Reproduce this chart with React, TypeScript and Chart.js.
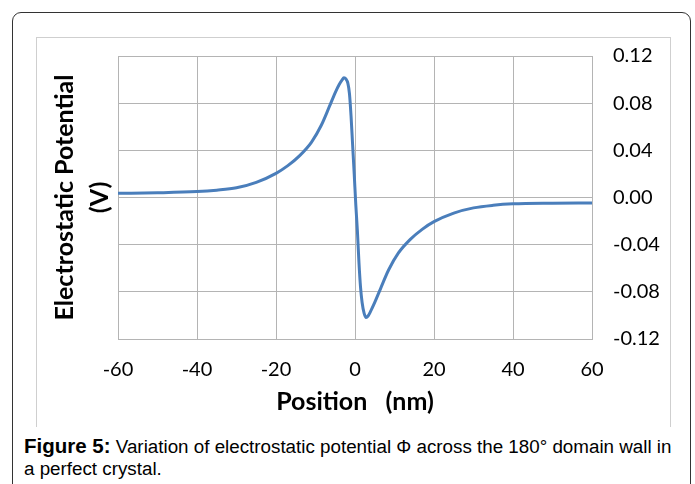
import React, { useEffect, useRef } from "react";
import { Chart, registerables } from "chart.js";

Chart.register(...registerables);

const positions = [
  -60, -50, -40, -35, -30, -25, -20, -17, -14, -11, -8.5, -6.5, -5, -4, -3.3, -2.8, -2.3, -1.8, -1.4, -1.0, -0.6,
  -0.2, 0.2, 0.6, 1.0, 1.4, 1.8, 2.3, 2.8, 3.3, 4, 5, 6.5, 8.5, 11, 14, 17, 20, 25, 30, 35, 40, 50, 60,
];
const potential = [
  0.0035, 0.004, 0.005, 0.0062, 0.0082, 0.0128, 0.0205, 0.027, 0.0355, 0.047, 0.0615, 0.077, 0.089, 0.0958,
  0.0995, 0.1015, 0.1005, 0.0968, 0.088, 0.069, 0.0445, 0.02, -0.006, -0.028, -0.055, -0.076, -0.089, -0.098,
  -0.1017, -0.1005, -0.0962, -0.089, -0.077, -0.0615, -0.047, -0.0355, -0.027, -0.0205, -0.0132, -0.0088,
  -0.0066, -0.0054, -0.0048, -0.0046,
];
const xTicks = [-60, -40, -20, 0, 20, 40, 60];
const yTicks = [-0.12, -0.08, -0.04, 0, 0.04, 0.08, 0.12];
const xTitle = "Position   (nm)";
const yTitle = ["Electrostatic Potential", "(V)"];

const FONT = "Lato";
const GRID = "#b4b4b4";

export default function App() {
  const ref = useRef<HTMLCanvasElement | null>(null);

  useEffect(() => {
    if (!ref.current) return;
    const chart = new Chart(ref.current, {
      type: "line",
      data: {
        datasets: [
          {
            data: positions.map((x, i) => ({ x, y: potential[i] })),
            borderColor: "#4a7ebb",
            borderWidth: 3,
            pointRadius: 0,
            cubicInterpolationMode: "monotone",
            fill: false,
            yAxisID: "y",
          },
        ],
      },
      options: {
        animation: false,
        responsive: false,
        devicePixelRatio: 1,
        layout: { padding: { top: 56, left: 0, right: 0, bottom: 0 } },
        plugins: { legend: { display: false }, tooltip: { enabled: false } },
        scales: {
          x: {
            type: "linear",
            position: "bottom",
            min: -60,
            max: 60,
            afterBuildTicks: (s: any) => {
              s.ticks = xTicks.map((v) => ({ value: v }));
            },
            ticks: {
              autoSkip: false,
              maxRotation: 0,
              padding: 19,
              color: "#000",
              font: { family: FONT, size: 20 },
              callback: (v: any) => String(v),
            },
            grid: { color: GRID, drawTicks: false },
            border: { color: GRID },
            title: {
              display: true,
              text: xTitle,
              color: "#000",
              font: { family: FONT, size: 25, weight: "bold" },
              padding: { top: 0, bottom: 13 },
            },
            afterFit: (s: any) => {
              s.height = 91;
            },
          },
          y: {
            type: "linear",
            position: "right",
            min: -0.12,
            max: 0.12,
            afterBuildTicks: (s: any) => {
              s.ticks = yTicks.map((v) => ({ value: v }));
            },
            ticks: {
              padding: 21,
              color: "#000",
              font: { family: FONT, size: 20 },
              callback: (v: any) => Number(v).toFixed(2),
            },
            grid: { color: GRID, drawTicks: false },
            border: { color: GRID },
            afterFit: (s: any) => {
              s.width = 103;
            },
          },
          yTitleAxis: {
            type: "linear",
            position: "left",
            grid: { display: false, drawTicks: false },
            border: { display: false },
            ticks: { display: false },
            title: {
              display: true,
              text: yTitle,
              color: "#000",
              font: { family: FONT, size: 25, weight: "bold", lineHeight: 1.4 },
              padding: { top: 47.5, bottom: 0 },
            },
            afterFit: (s: any) => {
              s.width = 118;
            },
          },
        },
      } as any,
    });
    return () => chart.destroy();
  }, []);

  return (
    <div
      style={{
        position: "fixed",
        left: 0,
        top: 0,
        width: 695,
        height: 484,
        background: "#fff",
        overflow: "hidden",
      }}
    >
      <div
        style={{
          position: "absolute",
          left: 12,
          top: 12,
          width: 679,
          height: 520,
          border: "1px solid #333",
          borderRadius: 9,
          boxSizing: "border-box",
        }}
      />
      <div
        style={{
          position: "absolute",
          left: 36,
          top: 37,
          width: 635,
          height: 390,
          borderTop: "1px solid #cfcfcf",
          borderLeft: "1px solid #cfcfcf",
          borderRight: "1px solid #cfcfcf",
          boxSizing: "border-box",
        }}
      />
      <canvas
        ref={ref}
        width={695}
        height={430}
        style={{ position: "absolute", left: 0, top: 0, width: 695, height: 430 }}
      />
      <div
        style={{
          position: "absolute",
          left: 24,
          top: 435,
          width: 665,
          fontFamily: "'Liberation Sans', Arial, sans-serif",
          fontSize: 18.8,
          lineHeight: "21.5px",
          color: "#000",
          whiteSpace: "nowrap",
        }}
      >
        <b style={{ fontSize: 20.5 }}>Figure 5:</b> Variation of electrostatic potential Φ across the 180° domain wall in
        <br />a perfect crystal.
      </div>
    </div>
  );
}
